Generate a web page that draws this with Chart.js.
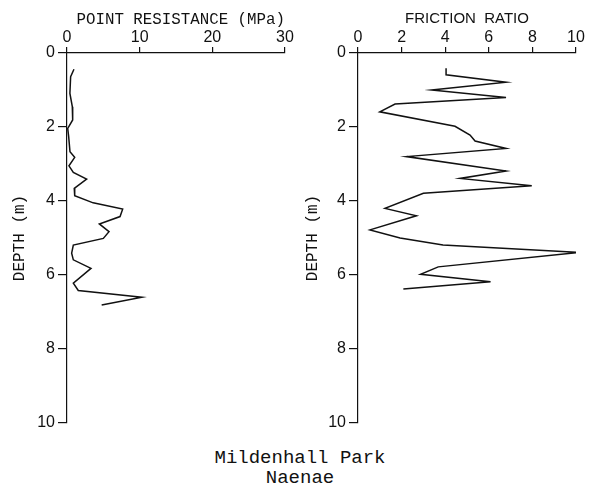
<!DOCTYPE html>
<html>
<head>
<meta charset="utf-8">
<script src="https://cdn.jsdelivr.net/npm/chart.js@4.4.0/dist/chart.umd.min.js"></script>
<style>
  html, body { margin: 0; padding: 0; background: #fff; }
  #wrap { position: relative; width: 590px; height: 491px; overflow: hidden; }
  .box { position: absolute; top: 0; width: 295px; height: 440px; }
  #left { left: 0; }
  #right { left: 295px; }
  #title {
    position: absolute; left: 0; width: 600px; top: 448px;
    text-align: center; font-family: "Liberation Mono", monospace;
    font-size: 19px; line-height: 20px; color: #111;
  }
</style>
</head>
<body>
<div id="wrap">
  <div class="box" id="left"><canvas id="resChart"></canvas></div>
  <div class="box" id="right"><canvas id="fricChart"></canvas></div>
  <div id="title">Mildenhall Park<br>Naenae</div>
</div>
<script>
// point resistance profile (MPa vs depth in m)
const resDepth = [0.44, 0.64, 1.09, 1.45, 1.81, 2.04, 2.26, 2.67, 2.82, 3.05, 3.23, 3.41, 3.66, 3.86,
  4.05, 4.22, 4.42, 4.62, 4.83, 5.01, 5.19, 5.41, 5.59, 5.82, 6.22, 6.42, 6.6, 6.81];
const resValue = [0.96, 0.5, 0.4, 0.73, 0.78, 0.1, 0.23, 0.41, 1.06, 0.27, 0.87, 2.7, 1.0, 1.06,
  3.6, 7.66, 7.3, 4.45, 5.78, 5.0, 0.87, 0.64, 0.87, 3.3, 0.87, 1.55, 10.3, 4.77];

// friction ratio profile
const fricDepth = [0.41, 0.59, 0.79, 1.0, 1.2, 1.38, 1.59, 1.98, 2.22, 2.38, 2.58, 2.8, 3.19, 3.39,
  3.59, 3.79, 4.2, 4.4, 4.78, 5.0, 5.19, 5.39, 5.78, 5.98, 6.18, 6.38];
const fricValue = [4.04, 4.04, 6.79, 3.38, 6.79, 1.7, 1.0, 4.45, 5.14, 5.37, 6.79, 2.23, 6.79, 4.68,
  7.97, 3.0, 1.24, 2.68, 0.55, 1.93, 3.9, 10.1, 3.68, 2.87, 6.08, 2.08];

const depthTicks = [0, 2, 4, 6, 8, 10];
const resTicks = [0, 10, 20, 30];
const fricTicks = [0, 2, 4, 6, 8, 10];

const tickFont = { family: 'Liberation Sans', size: 16 };
const titleFont = { family: 'Liberation Mono', size: 16 };

function makeProfile(canvasId, depths, values, xTicks, xTitle, opts) {
  const ctx = document.getElementById(canvasId).getContext('2d');
  new Chart(ctx, {
    type: 'scatter',
    data: {
      datasets: [
        {
          data: depths.map((d, i) => ({ x: values[i], y: d })),
          showLine: true,
          borderColor: '#111',
          borderWidth: 1.5,
          pointRadius: 0,
          tension: 0,
        },
      ],
    },
    options: {
      responsive: true,
      maintainAspectRatio: false,
      animation: false,
      layout: { padding: { left: 0, top: 0, right: opts.padRight, bottom: 17 } },
      plugins: { legend: { display: false }, tooltip: { enabled: false } },
      scales: {
        x: {
          type: 'linear',
          position: 'top',
          min: xTicks[0],
          max: xTicks[xTicks.length - 1],
          afterBuildTicks: (axis) => { axis.ticks = xTicks.map((v) => ({ value: v })); },
          afterFit: (axis) => { axis.height = 53; },
          ticks: { color: '#111', font: tickFont, padding: 0, maxRotation: 0 },
          grid: { drawOnChartArea: false, drawTicks: true, tickLength: 6, color: '#111', lineWidth: 1.2 },
          border: { display: true, color: '#111', width: 1.2 },
          title: { display: true, text: xTitle, color: '#111', font: opts.xTitleFont, padding: { top: 10, bottom: 0 } },
        },
        y: {
          type: 'linear',
          reverse: true,
          min: 0,
          max: 10,
          afterBuildTicks: (axis) => { axis.ticks = depthTicks.map((v) => ({ value: v })); },
          afterFit: (axis) => { axis.width = opts.yWidth; },
          ticks: { color: '#111', font: tickFont, padding: 3 },
          grid: { drawOnChartArea: false, drawTicks: true, tickLength: 9, color: '#111', lineWidth: 1.2 },
          border: { display: true, color: '#111', width: 1.2 },
          title: { display: true, text: 'DEPTH (m)', color: '#111', font: titleFont, padding: { top: opts.yTitlePad, bottom: 0 } },
        },
      },
    },
  });
}

makeProfile('resChart', resDepth, resValue, resTicks, ' POINT RESISTANCE (MPa)',
  { padRight: 10, yWidth: 67, yTitlePad: 10, xTitleFont: { family: 'Liberation Mono', size: 16.5 } });
makeProfile('fricChart', fricDepth, fricValue, fricTicks, 'FRICTION  RATIO',
  { padRight: 14, yWidth: 63, yTitlePad: 8, xTitleFont: { family: 'Liberation Sans', size: 15 } });
</script>
</body>
</html>
